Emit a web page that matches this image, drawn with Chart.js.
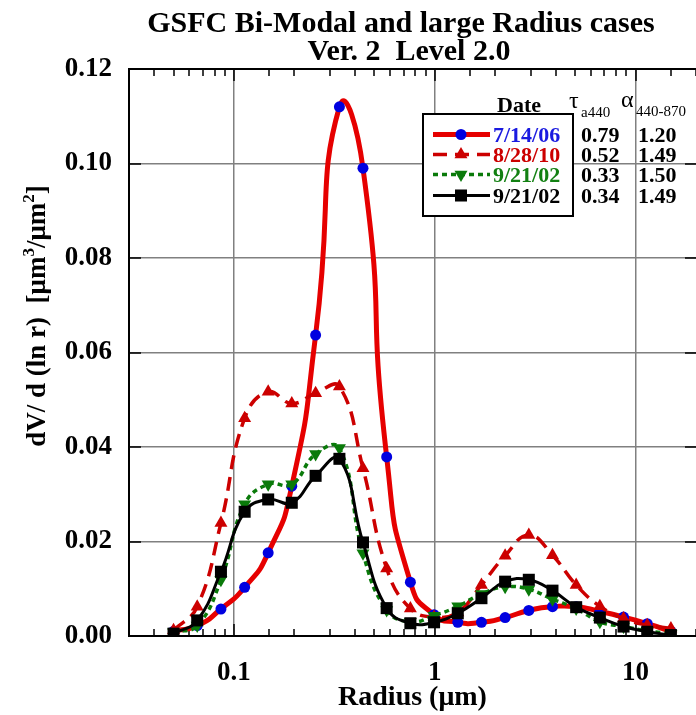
<!DOCTYPE html>
<html><head><meta charset="utf-8">
<script src="https://cdn.jsdelivr.net/npm/chart.js@4.4.0/dist/chart.umd.min.js"></script>
<style>html,body{margin:0;padding:0;background:#fff;}#wrap{width:696px;height:715px;position:relative;}</style>
</head><body><div id="wrap"><canvas id="c" width="696" height="715"></canvas></div>
<script>
// ---- data ----
const radii = [0.05,0.0656,0.0861,0.113,0.148,0.194,0.255,0.335,0.439,0.576,0.756,0.992,1.302,1.708,2.241,2.94,3.857,5.061,6.641,8.713,11.432,15.0];
const dv_071406 = [0.0010,0.0022,0.0057,0.0103,0.0176,0.0317,0.0637,0.1120,0.0990,0.0379,0.0114,0.0045,0.0029,0.0029,0.0039,0.0054,0.0062,0.0062,0.0052,0.0040,0.0026,0.0010];
const dv_082810 = [0.0012,0.0062,0.0239,0.0461,0.0517,0.0492,0.0514,0.0528,0.0355,0.0143,0.0058,0.0040,0.0050,0.0108,0.0170,0.0214,0.0171,0.0108,0.0063,0.0037,0.0023,0.0016];
const dv_092102g = [0.0008,0.0022,0.0119,0.0279,0.0321,0.0321,0.0385,0.0398,0.0175,0.0055,0.0030,0.0043,0.0063,0.0089,0.0104,0.0099,0.0078,0.0058,0.0030,0.0020,0.0011,0.0005];
const dv_092102k = [0.0005,0.0033,0.0136,0.0263,0.0289,0.0282,0.0339,0.0375,0.0198,0.0059,0.0027,0.0029,0.0048,0.0080,0.0115,0.0119,0.0096,0.0061,0.0039,0.0020,0.0009,0.0002];
const legendDates = ['7/14/06','8/28/10','9/21/02','9/21/02'];
const tau440 = ['0.79','0.52','0.33','0.34'];
const alpha440_870 = ['1.20','1.49','1.50','1.49'];
const yTickValues = [0,0.02,0.04,0.06,0.08,0.10,0.12];
const xLabelValues = [0.1,1,10];
const titleLines = ['GSFC Bi-Modal and large Radius cases','Ver. 2  Level 2.0'];

const SERIF = '"Liberation Serif","Times New Roman",serif';
const pts = arr => radii.map((r,i)=>({x:r,y:arr[i]}));
const isDecade = v => Math.abs(Math.log10(v) - Math.round(Math.log10(v))) < 1e-6;

const styles = [
  {line:'#e60000', width:5, dash:[], ptColor:'#0000e0', style:'circle', radius:5.5, rot:0, text:'#1a1ae0', tension:0.6},
  {line:'#cc0000', width:3.5, dash:[14,8], ptColor:'#cc0000', style:'triangle', radius:7.5, rot:0, text:'#cc0000', tension:0.45},
  {line:'#0a7a0a', width:3.5, dash:[5,4], ptColor:'#0a7a0a', style:'triangle', radius:7.5, rot:180, text:'#128012', tension:0.45},
  {line:'#000000', width:3, dash:[], ptColor:'#000000', style:'rect', radius:8.5, rot:0, text:'#000000', tension:0.45}
];
const series = [dv_071406, dv_082810, dv_092102g, dv_092102k];

const datasets = series.map((s,i)=>({
  label: legendDates[i],
  data: pts(s),
  borderColor: styles[i].line,
  borderWidth: styles[i].width,
  borderDash: styles[i].dash,
  backgroundColor: styles[i].ptColor,
  pointBackgroundColor: styles[i].ptColor,
  pointBorderColor: styles[i].ptColor,
  pointBorderWidth: 0,
  pointRadius: styles[i].radius,
  pointStyle: styles[i].style,
  pointRotation: styles[i].rot,
  tension: styles[i].tension,
  fill: false,
  order: 4 - i
}));

// title
const titlePlugin = {
  id:'titleText',
  afterDraw(chart){
    const ctx = chart.ctx;
    ctx.save();
    ctx.fillStyle = '#000';
    ctx.font = 'bold 30px '+SERIF;
    ctx.textAlign = 'center';
    ctx.textBaseline = 'alphabetic';
    ctx.fillText(titleLines[0], 401, 32);
    ctx.fillText(titleLines[1], 409, 60);
    ctx.restore();
  }
};

// frame + inward ticks
const framePlugin = {
  id:'frame',
  beforeDatasetsDraw(chart){
    const {ctx, chartArea:a, scales:{x,y}} = chart;
    ctx.save();
    ctx.strokeStyle = '#000';
    ctx.lineWidth = 2;
    ctx.beginPath();
    ctx.moveTo(a.left, a.top); ctx.lineTo(a.left, a.bottom);
    ctx.moveTo(a.left-1, a.bottom); ctx.lineTo(a.right+1, a.bottom);
    ctx.moveTo(a.left-1, a.top); ctx.lineTo(a.right+1, a.top);
    ctx.moveTo(a.right+1, a.top); ctx.lineTo(a.right+1, a.bottom);
    ctx.stroke();
    ctx.lineWidth = 1.5;
    ctx.beginPath();
    x.ticks.forEach(t=>{
      const px = Math.round(x.getPixelForValue(t.value));
      const len = isDecade(t.value) ? 12 : 7;
      ctx.moveTo(px, a.bottom); ctx.lineTo(px, a.bottom-len);
      ctx.moveTo(px, a.top); ctx.lineTo(px, a.top+len);
    });
    y.ticks.forEach(t=>{
      const py = Math.round(y.getPixelForValue(t.value));
      ctx.moveTo(a.left, py); ctx.lineTo(a.left+12, py);
      ctx.moveTo(a.right+1, py); ctx.lineTo(a.right-11, py);
    });
    ctx.stroke();
    ctx.restore();
  }
};

// y-axis title with superscripts
const yTitlePlugin = {
  id:'ytitle',
  afterDraw(chart){
    const {ctx} = chart;
    const big = 'bold 27px '+SERIF, small = 'bold 17px '+SERIF;
    const parts = [['dV/ d (ln r)  [\u03bcm',0],['3',1],['/\u03bcm',0],['2',1],[']',0]];
    ctx.save();
    let w = 0;
    parts.forEach(p=>{ctx.font = p[1]?small:big; w += ctx.measureText(p[0]).width;});
    const cx = 36, cy = 316;
    ctx.translate(cx, cy);
    ctx.rotate(-Math.PI/2);
    ctx.fillStyle = '#000';
    ctx.textBaseline = 'alphabetic';
    ctx.textAlign = 'left';
    let xx = -w/2;
    parts.forEach(p=>{
      ctx.font = p[1]?small:big;
      ctx.fillText(p[0], xx, p[1] ? -2 : 9);
      xx += ctx.measureText(p[0]).width;
    });
    ctx.restore();
  }
};

// legend table
const legendPlugin = {
  id:'legendTable',
  afterDraw(chart){
    const ctx = chart.ctx;
    ctx.save();
    const bx=423, by=114, bw=150, bh=102;
    ctx.fillStyle='#fff'; ctx.fillRect(bx,by,bw,bh);
    ctx.strokeStyle='#000'; ctx.lineWidth=2; ctx.strokeRect(bx,by,bw,bh);
    ctx.fillStyle='#000';
    ctx.textBaseline='alphabetic';
    ctx.textAlign='left';
    ctx.font='bold 22px '+SERIF;
    ctx.fillText('Date', 497, 112);
    ctx.font='24px '+SERIF;
    ctx.fillText('\u03c4', 569, 108);
    ctx.fillText('\u03b1', 621, 107);
    ctx.font='15px '+SERIF;
    ctx.fillText('a440', 581, 117);
    ctx.fillText('440-870', 636, 116);
    const rows = [142, 162, 182, 203];
    rows.forEach((yb,i)=>{
      const st = styles[i];
      const cy = yb - 7.5;
      ctx.save();
      ctx.strokeStyle = st.line; ctx.lineWidth = st.width; ctx.setLineDash(st.dash);
      ctx.beginPath(); ctx.moveTo(433, cy); ctx.lineTo(490, cy); ctx.stroke();
      ctx.restore();
      ctx.save();
      ctx.fillStyle = st.ptColor; ctx.strokeStyle = st.ptColor;
      Chart.helpers.drawPoint(ctx, {pointStyle:st.style, radius:st.radius, rotation:st.rot, borderWidth:0}, 461, cy);
      ctx.restore();
      ctx.font='bold 22px '+SERIF;
      ctx.fillStyle = st.text;
      ctx.fillText(legendDates[i], 493, yb);
      ctx.fillStyle = '#000';
      ctx.fillText(tau440[i], 581, yb);
      ctx.fillText(alpha440_870[i], 638, yb);
    });
    ctx.restore();
  }
};

Chart.defaults.font.family = SERIF;
new Chart(document.getElementById('c'), {
  type:'line',
  data:{datasets},
  options:{
    responsive:false,
    devicePixelRatio:1,
    animation:false,
    layout:{autoPadding:false, padding:{left:0,right:0,top:69,bottom:0}},
    plugins:{
      legend:{display:false},
      tooltip:{enabled:false},
      title:{display:false}
    },
    scales:{
      x:{type:'logarithmic', min:0.03, max:20, position:'bottom',
        afterFit(s){ s.height = 79; s.paddingLeft = 0; s.paddingRight = 0; },
        border:{display:false},
        grid:{drawTicks:false, lineWidth:1.5,
          color: c => (c.tick && isDecade(c.tick.value)) ? '#808080' : 'rgba(0,0,0,0)'},
        ticks:{autoSkip:false, maxRotation:0, padding:21, color:'#000',
          font:{size:27, weight:'bold', family:SERIF},
          callback:(v)=> xLabelValues.some(d=>Math.abs(d-v)/d<1e-6) ? String(v) : ''},
        title:{display:true, text:'Radius (\u03bcm)', color:'#000',
          font:{size:28, weight:'bold', family:SERIF}, padding:{top:0,bottom:0}}
      },
      y:{min:0, max:0.12,
        afterFit(s){ s.width = 129; s.paddingTop = 0; s.paddingBottom = 0; },
        afterBuildTicks(s){ s.ticks = yTickValues.map(v=>({value:v})); },
        border:{display:false},
        grid:{drawTicks:false, lineWidth:1.5,
          color: c => (c.tick && c.tick.value>0.001 && c.tick.value<0.119) ? '#808080' : 'rgba(0,0,0,0)'},
        ticks:{padding:17, color:'#000', font:{size:27, weight:'bold', family:SERIF},
          callback:(v)=> Number(v).toFixed(2)}
      }
    }
  },
  plugins:[framePlugin, yTitlePlugin, legendPlugin, titlePlugin]
});
</script></body></html>
